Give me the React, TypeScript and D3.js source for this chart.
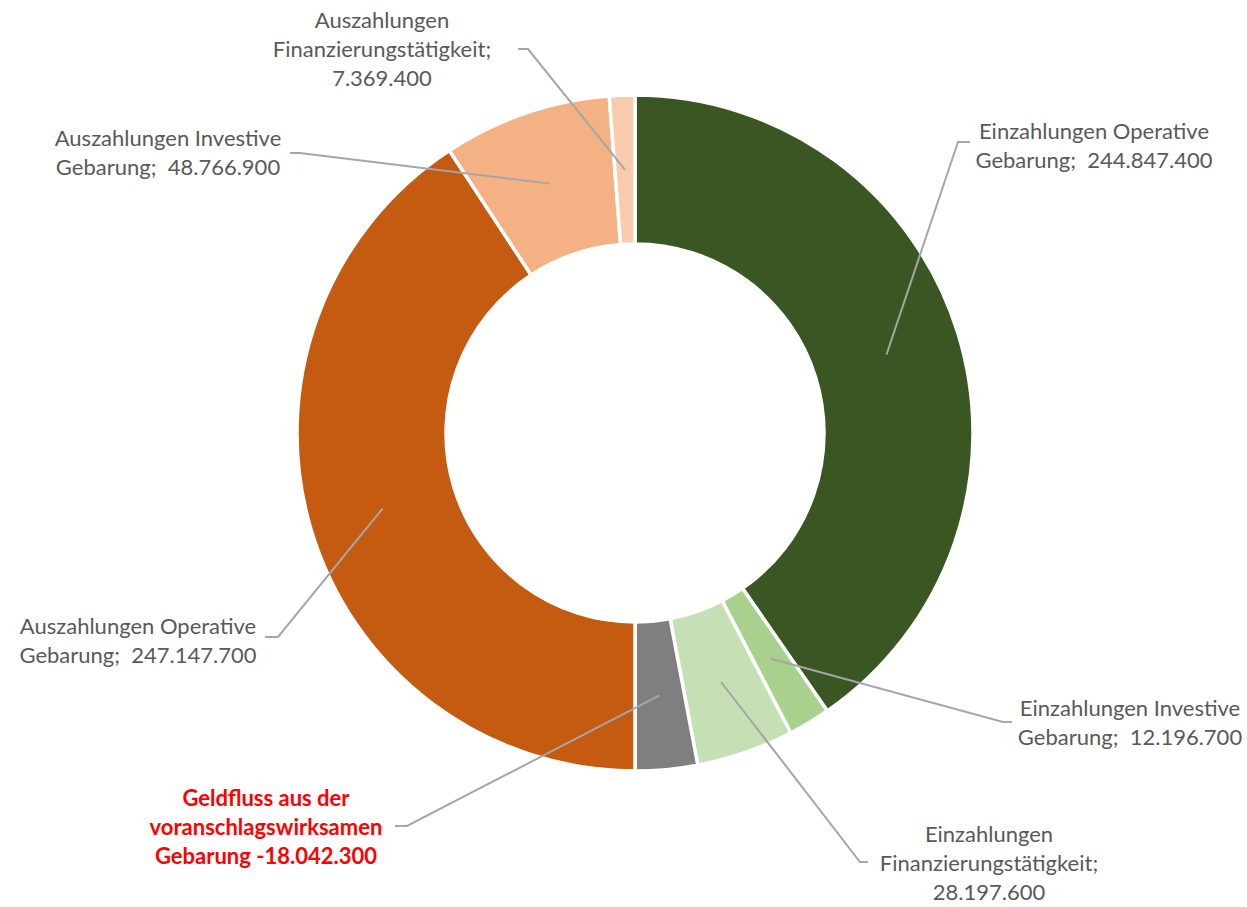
import React, { useEffect, useRef } from 'react';
import * as d3 from 'd3';

const categories = [
  'Einzahlungen Operative Gebarung',
  'Einzahlungen Investive Gebarung',
  'Einzahlungen Finanzierungstätigkeit',
  'Geldfluss aus der voranschlagswirksamen Gebarung',
  'Auszahlungen Operative Gebarung',
  'Auszahlungen Investive Gebarung',
  'Auszahlungen Finanzierungstätigkeit',
];
const values = [244847400, 12196700, 28197600, 18042300, 247147700, 48766900, 7369400];
const labelLines = [
  ['Einzahlungen Operative', 'Gebarung;  244.847.400'],
  ['Einzahlungen Investive', 'Gebarung;  12.196.700'],
  ['Einzahlungen', 'Finanzierungstätigkeit;', '28.197.600'],
  ['Geldfluss aus der', 'voranschlagswirksamen', 'Gebarung -18.042.300'],
  ['Auszahlungen Operative', 'Gebarung;  247.147.700'],
  ['Auszahlungen Investive', 'Gebarung;  48.766.900'],
  ['Auszahlungen', 'Finanzierungstätigkeit;', '7.369.400'],
];
const colors = ['#3A5723', '#A9D18E', '#C5E0B4', '#7F7F7F', '#C55A11', '#F4B183', '#F8CBAD'];

// label placement: text centre x, first baseline y, leader elbow (x,y) and end x
const layout = [
  { x: 1094, y: 139, ex: 958, ey: 142, endX: 970 },
  { x: 1130, y: 716, ex: 1003, ey: 722, endX: 1012 },
  { x: 989, y: 842, ex: 860, ey: 862, endX: 868 },
  { x: 266, y: 806, ex: 407, ey: 826, endX: 395 },
  { x: 138, y: 634, ex: 278, ey: 637, endX: 265 },
  { x: 168, y: 146, ex: 300, ey: 153, endX: 290 },
  { x: 382, y: 28, ex: 528, ey: 49, endX: 518 },
];

const W = 1247;
const H = 907;

const drawChart = (element: SVGSVGElement) => {
  const svg = d3.select(element);
  svg.selectAll('*').remove();

  const cx = 635;
  const cy = 433;
  const outer = 338;
  const inner = 189;

  const data = categories.map((c, i) => ({ name: c, value: values[i] }));
  const pie = d3.pie<any>().sort(null).value((d) => d.value);
  const arc = d3.arc<any>().innerRadius(inner).outerRadius(outer);
  const arcs = pie(data);

  const g = svg.append('g').attr('transform', `translate(${cx},${cy})`);
  g.selectAll('path')
    .data(arcs)
    .enter()
    .append('path')
    .attr('d', arc)
    .attr('fill', (d, i) => colors[i])
    .attr('stroke', '#fff')
    .attr('stroke-width', 3.5);

  // leader lines
  arcs.forEach((d, i) => {
    const [px, py] = arc.centroid(d);
    const L = layout[i];
    svg
      .append('polyline')
      .attr('points', `${cx + px},${cy + py} ${L.ex},${L.ey} ${L.endX},${L.ey}`)
      .attr('fill', 'none')
      .attr('stroke', '#A6A6A6')
      .attr('stroke-width', 2);
  });

  // labels
  labelLines.forEach((lines, i) => {
    const L = layout[i];
    const red = i === 3;
    const t = svg
      .append('text')
      .attr('text-anchor', 'middle')
      .attr('font-family', 'Lato, "Open Sans", sans-serif')
      .attr('font-size', 22)
      .attr('font-weight', red ? 700 : 400)
      .attr('fill', red ? '#FF0000' : '#595959')
      .style('white-space', 'pre');
    lines.forEach((ln, j) => {
      t.append('tspan').attr('x', L.x).attr('y', L.y + j * 29).text(ln);
    });
  });
};

export default function App() {
  const ref = useRef<SVGSVGElement>(null);
  useEffect(() => {
    if (ref.current) drawChart(ref.current);
  }, []);
  return (
    <svg
      ref={ref}
      width={W}
      height={H}
      style={{ position: 'absolute', left: 0, top: 0, background: '#fff' }}
    />
  );
}
